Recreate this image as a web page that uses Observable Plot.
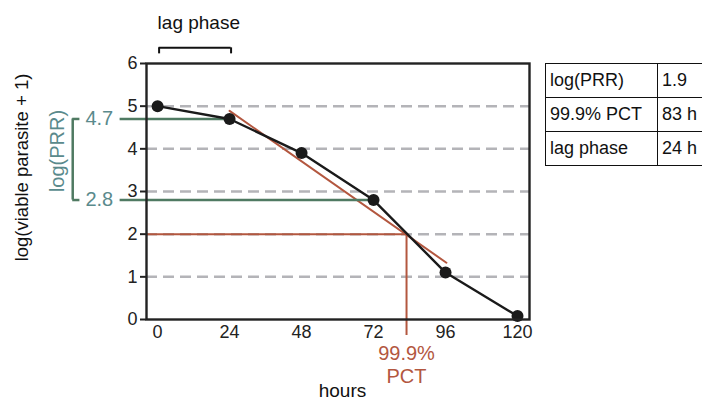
<!DOCTYPE html>
<html>
<head>
<meta charset="utf-8">
<script src="https://cdn.jsdelivr.net/npm/d3@7"></script>
<script src="https://cdn.jsdelivr.net/npm/@observablehq/plot@0.6"></script>
<style>
  html, body { margin: 0; padding: 0; background: #fff; }
  #wrap { position: relative; width: 702px; height: 408px; overflow: hidden; font-family: "Liberation Sans", Arial, sans-serif; }
  #wrap svg { position: absolute; left: 0; top: 0; }
  table.stats { position: absolute; left: 545px; top: 63px; border-collapse: collapse; font-size: 18px; color: #111; table-layout: fixed; width: 200px; }
  table.stats td { border: 1.5px solid #111; height: 34px; padding: 0 4px; box-sizing: border-box; white-space: nowrap; }
</style>
</head>
<body>
<div id="wrap"></div>
<script>
// ---- data ----
const hours = [0, 24, 48, 72, 96, 120];
const logViable = [5.0, 4.7, 3.9, 2.8, 1.1, 0.08];
const fitHours = [24, 96.3];
const fitLog = [4.89, 1.33];
const pctHours = 83;
const pctLevel = 2;
const prrHigh = 4.7;
const prrLow = 2.8;
const lagStart = 0;
const lagEnd = 24.5;
const yTicks = [0, 1, 2, 3, 4, 5, 6];
const xTicks = [0, 24, 48, 72, 96, 120];
const gridLevels = [1, 2, 3, 4, 5];
const tableLabels = ["log(PRR)", "99.9% PCT", "lag phase"];
const tableValues = ["1.9", "83 h", "24 h"];

const points = hours.map((h, i) => ({h, v: logViable[i]}));
const fit = fitHours.map((h, i) => ({h, v: fitLog[i]}));

const RED = "#b3573f";
const GREEN = "#4f7a62";
const TEAL = "#5a8a8c";
const FONT = "Liberation Sans, Arial, sans-serif";

// annotation anchor positions (data units, outside the frame)
const xMin = -3.7, xMax = 124;
const greenStartX = -12.5;
const prrTextX = -14.8;
const bracketX = -28.3, bracketArmX = -25.9;
const prrLabelX = -33.2;
const pctBottom = -0.375;
const lagTextY = 6.94, lagBarY = 6.367, lagTickY = 6.226;

const chart = Plot.plot({
  width: 702,
  height: 408,
  marginLeft: 146,
  marginRight: 173,
  marginTop: 63,
  marginBottom: 89,
  style: {fontFamily: FONT, background: "transparent", color: "#222", overflow: "visible"},
  x: {domain: [xMin, xMax], axis: null},
  y: {domain: [0, 6], axis: null},
  marks: [
    Plot.ruleY(gridLevels, {stroke: "#b4b4b8", strokeWidth: 2.5, strokeDasharray: "11,6"}),
    // 99.9% PCT construction
    Plot.ruleY([pctLevel], {x1: xMin, x2: pctHours, stroke: RED, strokeWidth: 2}),
    Plot.ruleX([pctHours], {y1: pctLevel, y2: pctBottom, stroke: RED, strokeWidth: 2}),
    Plot.line(fit, {x: "h", y: "v", stroke: RED, strokeWidth: 2}),
    // PRR construction
    Plot.ruleY([prrHigh], {x1: greenStartX, x2: hours[1], stroke: GREEN, strokeWidth: 2.5}),
    Plot.ruleY([prrLow], {x1: greenStartX, x2: hours[3], stroke: GREEN, strokeWidth: 2.5}),
    Plot.ruleX([bracketX], {y1: prrLow, y2: prrHigh, stroke: GREEN, strokeWidth: 2.5}),
    Plot.ruleY([prrLow, prrHigh], {x1: bracketX, x2: bracketArmX, stroke: GREEN, strokeWidth: 2.5}),
    Plot.text([prrHigh, prrLow], {x: prrTextX, y: d => d, text: d => d.toFixed(1), textAnchor: "end", fill: TEAL, fontSize: 20}),
    Plot.text(["log(PRR)"], {x: prrLabelX, y: 3.95, text: d => d, rotate: -90, textAnchor: "middle", fill: TEAL, fontSize: 20}),
    // data
    Plot.line(points, {x: "h", y: "v", stroke: "#1a1a1a", strokeWidth: 2.4}),
    Plot.dot(points, {x: "h", y: "v", r: 6, fill: "#1a1a1a"}),
    Plot.frame({stroke: "#222", strokeWidth: 2.4}),
    // axes
    Plot.axisY(yTicks, {tickSize: 6, tickPadding: 3, fontSize: 18, strokeWidth: 2, label: null}),
    Plot.axisX(xTicks, {tickSize: 0, tickPadding: 6, fontSize: 18, label: null}),
    // PCT label
    Plot.text(["99.9%\nPCT"], {x: pctHours, y: pctBottom, text: d => d, lineAnchor: "top", dy: 8, fill: RED, fontSize: 20, lineHeight: 1.15}),
    // lag phase bracket
    Plot.text(["lag phase"], {x: lagStart, y: lagTextY, text: d => d, textAnchor: "start", fontSize: 19, fill: "#111"}),
    Plot.ruleY([lagBarY], {x1: lagStart + 0.5, x2: lagEnd, stroke: "#111", strokeWidth: 2}),
    Plot.ruleX([lagStart + 0.5, lagEnd], {y1: lagBarY, y2: lagTickY, stroke: "#111", strokeWidth: 2}),
    // axis titles
    Plot.text(["hours"], {frameAnchor: "bottom", text: d => d, dx: 4.5, dy: 77, fontSize: 19, fill: "#111"}),
    Plot.text(["log(viable parasite + 1)"], {frameAnchor: "left", text: d => d, rotate: -90, textAnchor: "middle", lineAnchor: "middle", dx: -124, dy: -24, fontSize: 18.5, fill: "#111"})
  ]
});

const wrap = document.getElementById("wrap");
wrap.appendChild(chart);

const table = document.createElement("table");
table.className = "stats";
const colgroup = document.createElement("colgroup");
["112px", "88px"].forEach(w => { const c = document.createElement("col"); c.style.width = w; colgroup.appendChild(c); });
table.appendChild(colgroup);
tableLabels.forEach((lab, i) => {
  const tr = document.createElement("tr");
  const a = document.createElement("td");
  a.textContent = lab;
  const b = document.createElement("td");
  b.textContent = tableValues[i];
  tr.appendChild(a);
  tr.appendChild(b);
  table.appendChild(tr);
});
wrap.appendChild(table);
</script>
</body>
</html>
